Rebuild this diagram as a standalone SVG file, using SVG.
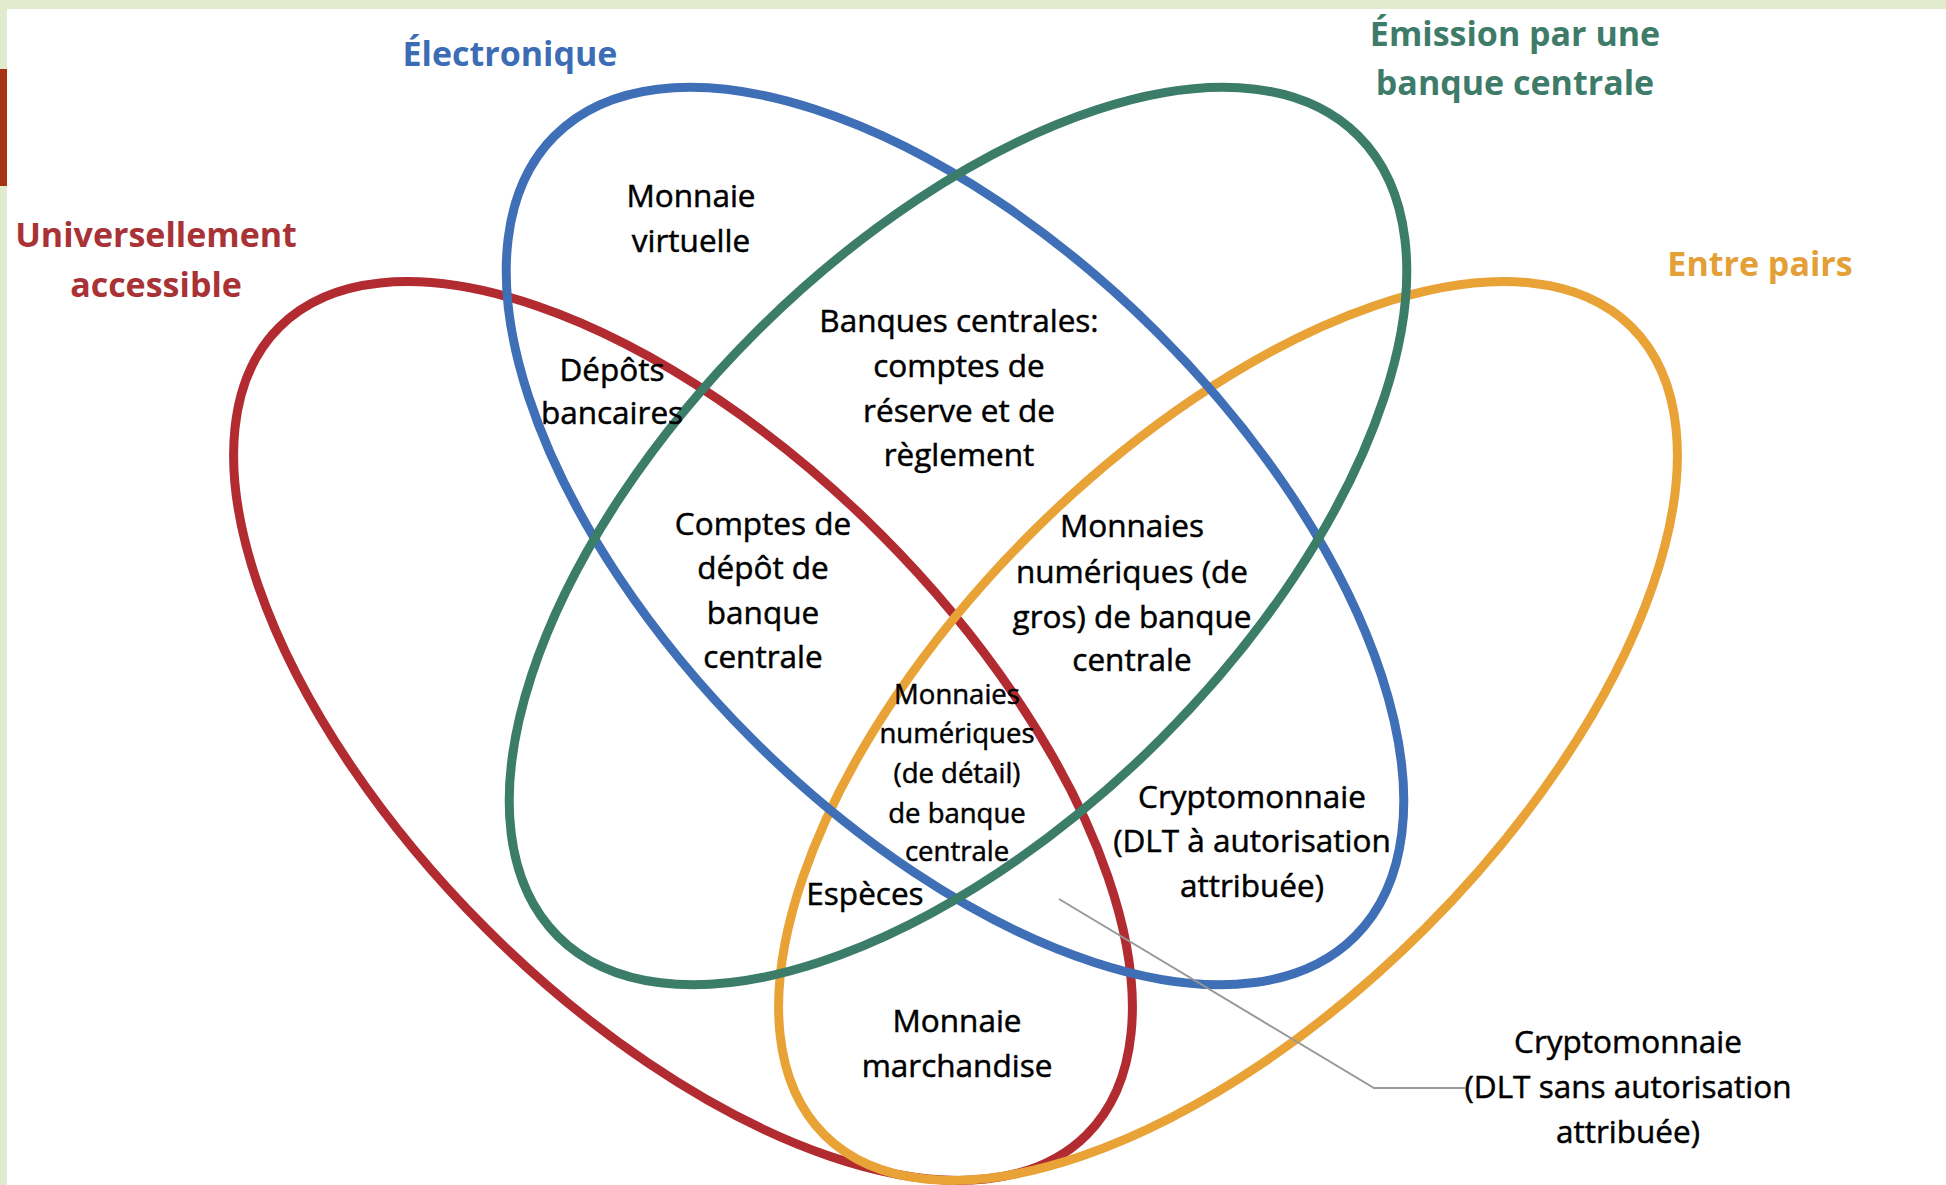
<svg xmlns="http://www.w3.org/2000/svg" width="1946" height="1185" viewBox="0 0 1946 1185">
<style>
.ring{fill:none;stroke-width:9}
.lbl{font-family:"Open Sans","Noto Sans",sans-serif;font-size:31.5px;fill:#000;stroke:#000;stroke-width:0.5px;text-anchor:middle}
.sm{font-size:27.5px}
.hd{font-family:"Open Sans","Noto Sans",sans-serif;font-size:34px;font-weight:bold;text-anchor:middle}
</style>
<rect x="0" y="0" width="1946" height="1185" fill="#ffffff"/>
<rect x="0" y="0" width="1946" height="9" fill="#e3ebcf"/>
<rect x="0" y="0" width="7" height="1185" fill="#e3ebcf"/>
<g id="slide-tab">
<rect x="0" y="69" width="7" height="117" fill="#a83214"/>
</g>
<g id="set-universel">
<ellipse class="ring" cx="683" cy="731" rx="571" ry="279" transform="rotate(45 683 731)" stroke="#b12b31"/>
<text class="hd" x="156" y="247" fill="#a83236">Universellement</text>
<text class="hd" x="156" y="297" fill="#a83236">accessible</text>
</g>
<g id="set-pairs">
<ellipse class="ring" cx="1228" cy="731" rx="571" ry="279" transform="rotate(-45 1228 731)" stroke="#e8a236"/>
<text class="hd" x="1760" y="276" fill="#e3a036">Entre pairs</text>
</g>
<g id="set-electronique">
<ellipse class="ring" cx="955" cy="536" rx="566" ry="287" transform="rotate(45 955 536)" stroke="#3f6fb6"/>
<text class="hd" x="510" y="66" fill="#3c6db4">Électronique</text>
</g>
<g id="set-emission">
<ellipse class="ring" cx="958" cy="536" rx="566" ry="287" transform="rotate(-45 958 536)" stroke="#3b7d69"/>
<text class="hd" x="1515" y="46" fill="#3e7c69">Émission par une</text>
<text class="hd" x="1515" y="95" fill="#3e7c69">banque centrale</text>
</g>
<g id="connectors">
<polyline points="1059,899 1374,1088 1465,1088" fill="none" stroke="#999999" stroke-width="2"/>
</g>
<g id="n-virtuelle"><text class="lbl" x="691" y="207">Monnaie</text><text class="lbl" x="691" y="252">virtuelle</text></g>
<g id="n-depots"><text class="lbl" x="612" y="381">Dépôts</text><text class="lbl" x="612" y="424">bancaires</text></g>
<g id="n-reserve"><text class="lbl" x="959" y="332">Banques centrales:</text><text class="lbl" x="959" y="377">comptes de</text><text class="lbl" x="959" y="422">réserve et de</text><text class="lbl" x="959" y="466">règlement</text></g>
<g id="n-comptes"><text class="lbl" x="763" y="535">Comptes de</text><text class="lbl" x="763" y="579">dépôt de</text><text class="lbl" x="763" y="624">banque</text><text class="lbl" x="763" y="668">centrale</text></g>
<g id="n-gros"><text class="lbl" x="1132" y="537">Monnaies</text><text class="lbl" x="1132" y="583">numériques (de</text><text class="lbl" x="1132" y="628">gros) de banque</text><text class="lbl" x="1132" y="671">centrale</text></g>
<g id="n-detail"><text class="lbl sm" x="957" y="704">Monnaies</text><text class="lbl sm" x="957" y="743">numériques</text><text class="lbl sm" x="957" y="783">(de détail)</text><text class="lbl sm" x="957" y="823">de banque</text><text class="lbl sm" x="957" y="861">centrale</text></g>
<g id="n-especes"><text class="lbl" x="865" y="905">Espèces</text></g>
<g id="n-crypto-auth"><text class="lbl" x="1252" y="808">Cryptomonnaie</text><text class="lbl" x="1252" y="852">(DLT à autorisation</text><text class="lbl" x="1252" y="897">attribuée)</text></g>
<g id="n-marchandise"><text class="lbl" x="957" y="1032">Monnaie</text><text class="lbl" x="957" y="1077">marchandise</text></g>
<g id="n-crypto-sans"><text class="lbl" x="1628" y="1053">Cryptomonnaie</text><text class="lbl" x="1628" y="1098">(DLT sans autorisation</text><text class="lbl" x="1628" y="1143">attribuée)</text></g>
</svg>
